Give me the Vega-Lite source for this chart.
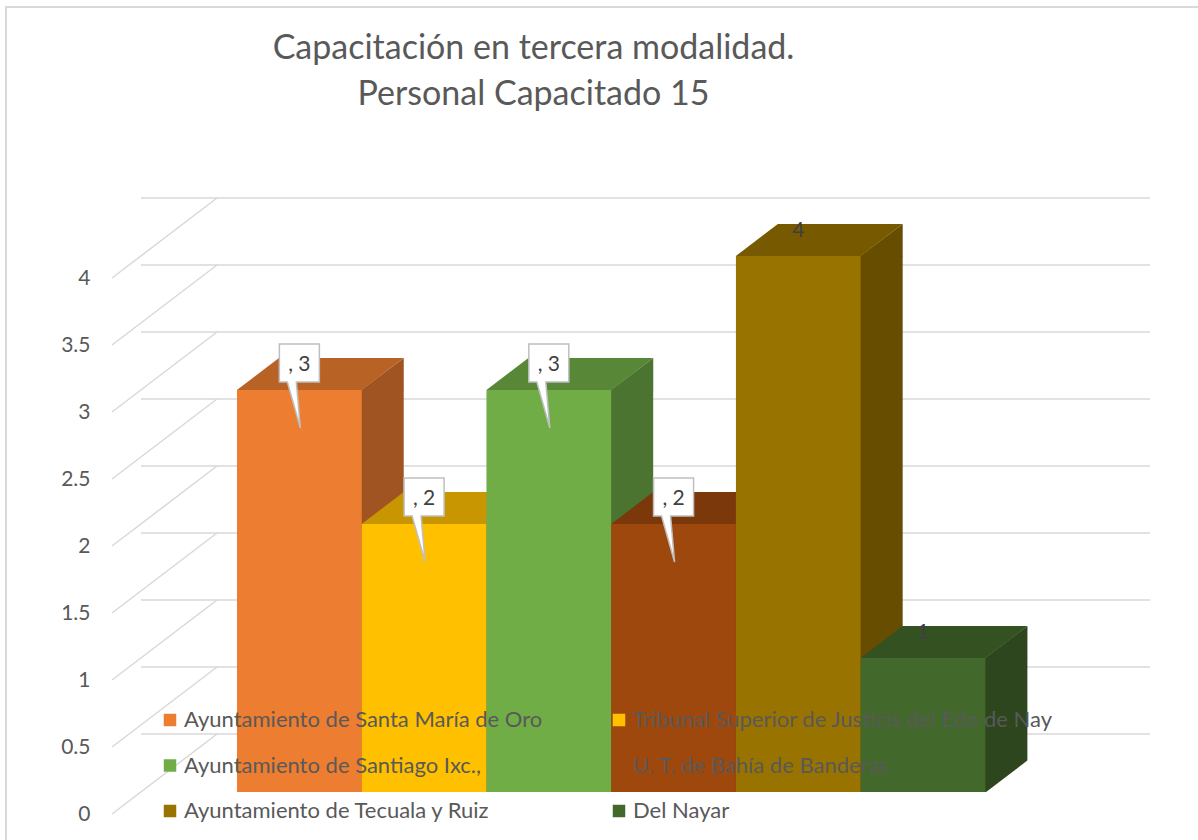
{
  "$schema": "https://vega.github.io/schema/vega-lite/v6.json",
  "width": 933,
  "height": 536,
  "autosize": {"type": "none"},
  "padding": {"left": 141, "top": 256, "right": 124, "bottom": 48},
  "background": "white",
  "config": {"view": {"stroke": null}, "font": "Lato"},
  "title": {
    "text": ["Capacitación en tercera modalidad.", "Personal Capacitado 15"],
    "fontSize": 34,
    "font": "Lato",
    "fontWeight": "normal",
    "color": "#595959",
    "anchor": "middle",
    "frame": "group",
    "dx": -74,
    "lineHeight": 46,
    "offset": -106
  },
  "datasets": {
    "bars": [
      {"cat": "Ayuntamiento de Santa María de Oro", "value": 3, "label": ", 3"},
      {"cat": "Tribunal Superior de Justicis del Edo de Nay", "value": 2, "label": ", 2"},
      {"cat": "Ayuntamiento de Santiago Ixc.,", "value": 3, "label": ", 3"},
      {"cat": "U. T. de Bahía de Banderas", "value": 2, "label": ", 2"},
      {"cat": "Ayuntamiento de Tecuala y Ruiz", "value": 4, "label": "4"},
      {"cat": "Del Nayar", "value": 1, "label": "1"}
    ],
    "ticks": [
      {"v": 0}, {"v": 0.5}, {"v": 1}, {"v": 1.5}, {"v": 2},
      {"v": 2.5}, {"v": 3}, {"v": 3.5}, {"v": 4}
    ],
    "one": [{"k": 1}]
  },
  "layer": [
    {
      "data": {"name": "one"},
      "mark": {"type": "rect", "fill": "transparent", "stroke": "#D9D9D9", "strokeWidth": 2, "xOffset": -135, "x2Offset": 140, "yOffset": -249, "y2Offset": 60},
      "encoding": {
        "x": {"value": 0},
        "x2": {"value": {"expr": "width"}},
        "y": {"value": 0},
        "y2": {"value": {"expr": "height"}}
      }
    },
    {
      "data": {"name": "ticks"},
      "mark": {"type": "rule", "color": "#D9D9D9", "strokeWidth": 1.5, "xOffset": 76, "x2Offset": 76, "yOffset": -58},
      "encoding": {
        "y": {
          "field": "v", "type": "quantitative",
          "scale": {"domain": [0, 4], "nice": false, "zero": true},
          "axis": {
            "orient": "left", "title": null, "domain": false, "ticks": false, "grid": false,
            "values": [0, 0.5, 1, 1.5, 2, 2.5, 3, 3.5, 4], "format": "~g",
            "labelFontSize": 21, "labelColor": "#595959", "labelFont": "Lato",
            "labelOffset": 22, "labelPadding": 51
          }
        }
      }
    },
    {
      "data": {"name": "ticks"},
      "mark": {"type": "rule", "color": "#D9D9D9", "strokeWidth": 1.5, "xOffset": -29, "x2Offset": 76, "yOffset": 22, "y2Offset": -58},
      "encoding": {
        "x": {"value": 0},
        "x2": {"value": 0},
        "y": {"field": "v", "type": "quantitative"},
        "y2": {"field": "v"}
      }
    },
    {
      "data": {"name": "bars"},
      "mark": {"type": "bar", "xOffset": 42},
      "encoding": {
        "x": {
          "field": "cat", "type": "nominal", "axis": null,
          "scale": {"type": "band", "domain": ["Ayuntamiento de Santa María de Oro", "Tribunal Superior de Justicis del Edo de Nay", "Ayuntamiento de Santiago Ixc.,", "U. T. de Bahía de Banderas", "Ayuntamiento de Tecuala y Ruiz", "Del Nayar"], "paddingInner": 0, "paddingOuter": 0.74, "align": 0.52}
        },
        "y": {"field": "value", "type": "quantitative"},
        "color": {
          "field": "cat", "type": "nominal", "legend": null,
          "scale": {"domain": ["Ayuntamiento de Santa María de Oro", "Tribunal Superior de Justicis del Edo de Nay", "Ayuntamiento de Santiago Ixc.,", "U. T. de Bahía de Banderas", "Ayuntamiento de Tecuala y Ruiz", "Del Nayar"], "range": ["#9F5421", "#AB8100", "#4B7430", "#6A3009", "#664D00", "#2D461D"]}
        }
      }
    },
    {
      "data": {"name": "bars"},
      "mark": {"type": "point", "shape": "M 62 0 L 104.4 -32 L 104.4 0.5 Z", "size": 4, "filled": true, "opacity": 1, "strokeWidth": 0},
      "encoding": {
        "x": {"field": "cat", "type": "nominal"},
        "y": {"field": "value", "type": "quantitative"},
        "color": {
          "field": "cat", "type": "nominal", "legend": null,
          "scale": {"domain": ["Ayuntamiento de Santa María de Oro", "Tribunal Superior de Justicis del Edo de Nay", "Ayuntamiento de Santiago Ixc.,", "U. T. de Bahía de Banderas", "Ayuntamiento de Tecuala y Ruiz", "Del Nayar"], "range": ["#9F5421", "#AB8100", "#4B7430", "#6A3009", "#664D00", "#2D461D"]}
        }
      }
    },
    {
      "data": {"name": "bars"},
      "mark": {"type": "point", "shape": "M 62.4 0.5 L 105 0.5 L 105 -32 Z", "size": 4, "filled": true, "opacity": 1, "strokeWidth": 0, "fill": "white"},
      "encoding": {
        "x": {"field": "cat", "type": "nominal"},
        "y": {"datum": 0, "type": "quantitative"}
      }
    },
    {
      "data": {"name": "bars"},
      "mark": {"type": "point", "shape": "M -62.4 0 L 62.4 0 L 104.4 -32 L -20.4 -32 Z", "size": 4, "filled": true, "opacity": 1, "strokeWidth": 0},
      "encoding": {
        "x": {"field": "cat", "type": "nominal"},
        "y": {"field": "value", "type": "quantitative"},
        "color": {
          "field": "cat", "type": "nominal", "legend": null,
          "scale": {"domain": ["Ayuntamiento de Santa María de Oro", "Tribunal Superior de Justicis del Edo de Nay", "Ayuntamiento de Santiago Ixc.,", "U. T. de Bahía de Banderas", "Ayuntamiento de Tecuala y Ruiz", "Del Nayar"], "range": ["#B96226", "#C79600", "#578737", "#7B380B", "#775A00", "#345122"]}
        }
      }
    },
    {
      "data": {"name": "bars"},
      "mark": {"type": "bar"},
      "encoding": {
        "x": {"field": "cat", "type": "nominal"},
        "y": {"field": "value", "type": "quantitative"},
        "color": {
          "field": "cat", "type": "nominal",
          "scale": {"domain": ["Ayuntamiento de Santa María de Oro", "Tribunal Superior de Justicis del Edo de Nay", "Ayuntamiento de Santiago Ixc.,", "U. T. de Bahía de Banderas", "Ayuntamiento de Tecuala y Ruiz", "Del Nayar"], "range": ["#ED7D31", "#FFC000", "#70AD47", "#9E480E", "#997300", "#43682B"]},
          "legend": {
            "orient": "none", "legendX": 18, "legendY": 453, "columns": 2, "direction": "horizontal", "columnPadding": 65, "rowPadding": 23.5,
            "symbolType": "square", "symbolSize": 156, "symbolStrokeWidth": 0, "symbolOpacity": 1,
            "labelFontSize": 22, "labelColor": "#595959", "labelFont": "Lato", "labelOffset": 3, "labelLimit": 600,
            "title": null, "zindex": 1, "padding": 0
          }
        }
      }
    },
    {
      "data": {"name": "bars"},
      "transform": [{"filter": "indexof(datum.label, ',') >= 0"}],
      "mark": {"type": "point", "shape": "M -20 -46 L 20 -46 L 20 -8 L -3 -8 L 1 38 L -12 -8 L -20 -8 Z", "size": 4, "filled": true, "opacity": 1, "fill": "white", "stroke": "#BFBFBF", "strokeWidth": 1.5},
      "encoding": {
        "x": {"field": "cat", "type": "nominal"},
        "y": {"field": "value", "type": "quantitative"}
      }
    },
    {
      "data": {"name": "bars"},
      "mark": {"type": "text", "dy": -25, "fontSize": 21, "color": "#404040", "baseline": "middle", "font": "Lato"},
      "encoding": {
        "x": {"field": "cat", "type": "nominal"},
        "y": {"field": "value", "type": "quantitative"},
        "text": {"field": "label"}
      }
    }
  ],
  "resolve": {"scale": {"color": "independent"}}
}
